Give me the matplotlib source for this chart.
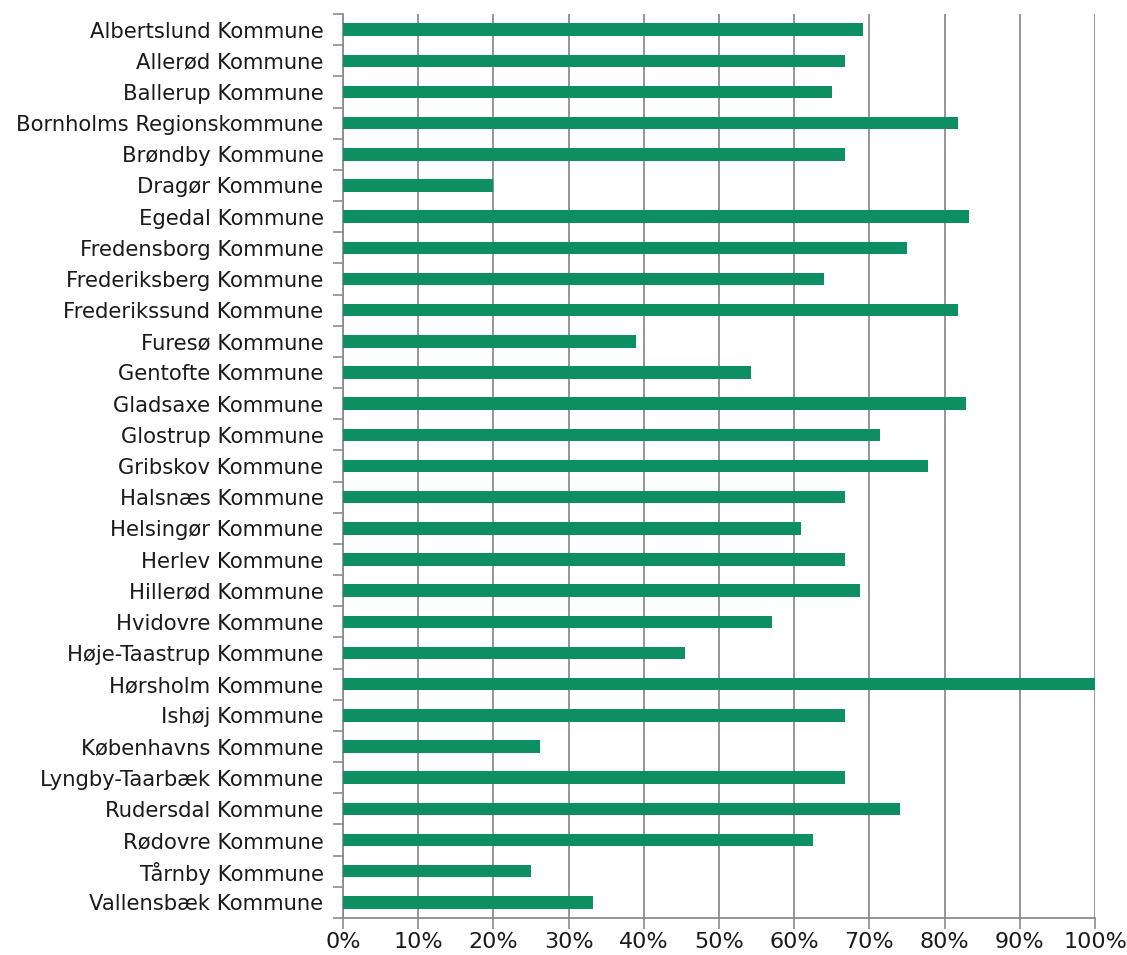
import matplotlib
matplotlib.use("Agg")
import matplotlib.pyplot as plt
from matplotlib.ticker import FixedLocator, PercentFormatter

categories = [
    "Albertslund Kommune", "Allerød Kommune", "Ballerup Kommune",
    "Bornholms Regionskommune", "Brøndby Kommune", "Dragør Kommune",
    "Egedal Kommune", "Fredensborg Kommune", "Frederiksberg Kommune",
    "Frederikssund Kommune", "Furesø Kommune", "Gentofte Kommune",
    "Gladsaxe Kommune", "Glostrup Kommune", "Gribskov Kommune",
    "Halsnæs Kommune", "Helsingør Kommune", "Herlev Kommune",
    "Hillerød Kommune", "Hvidovre Kommune", "Høje-Taastrup Kommune",
    "Hørsholm Kommune", "Ishøj Kommune", "Københavns Kommune",
    "Lyngby-Taarbæk Kommune", "Rudersdal Kommune", "Rødovre Kommune",
    "Tårnby Kommune", "Vallensbæk Kommune",
]
values = [
    69.2, 66.7, 65.0, 81.8, 66.7, 20.0, 83.3, 75.0, 64.0, 81.8,
    38.9, 54.3, 82.8, 71.4, 77.8, 66.7, 60.9, 66.7, 68.8, 57.1,
    45.5, 100.0, 66.7, 26.2, 66.7, 74.1, 62.5, 25.0, 33.3,
]
xticks = [0, 10, 20, 30, 40, 50, 60, 70, 80, 90, 100]

plt.rcParams['font.family'] = ['DejaVu Sans']
fig = plt.figure(figsize=(11.27, 9.55), dpi=100)
ax = fig.add_axes([343/1127, 1 - 918/955, (1095-343)/1127, (918-14)/955])

n = len(categories)
ypos = list(range(n))
ax.barh(ypos, values, height=0.4, color="#0E8F62", zorder=3)
ax.set_ylim(n - 0.5, -0.5)
ax.set_xlim(0, 100)

ax.set_yticks(ypos)
ax.set_yticklabels(categories, fontsize=15.2, color="#1a1a1a")
ax.tick_params(axis="y", length=0, pad=14)
ax.yaxis.set_minor_locator(FixedLocator([i - 0.5 for i in range(n + 1)]))
ax.tick_params(axis="y", which="minor", length=7, width=1.2, color="#8c8c8c")

ax.set_xticks(xticks)
ax.xaxis.set_major_formatter(PercentFormatter(decimals=0))
ax.tick_params(axis="x", length=8, width=1.2, color="#8c8c8c", labelsize=16, pad=2, labelcolor="#1a1a1a")
ax.grid(axis="x", color="#8c8c8c", linewidth=1.3, zorder=0)

for s in ["top", "right"]:
    ax.spines[s].set_visible(False)
for s in ["left", "bottom"]:
    ax.spines[s].set_color("#8c8c8c")
    ax.spines[s].set_linewidth(1.3)

fig.savefig("out.png", dpi=100)
